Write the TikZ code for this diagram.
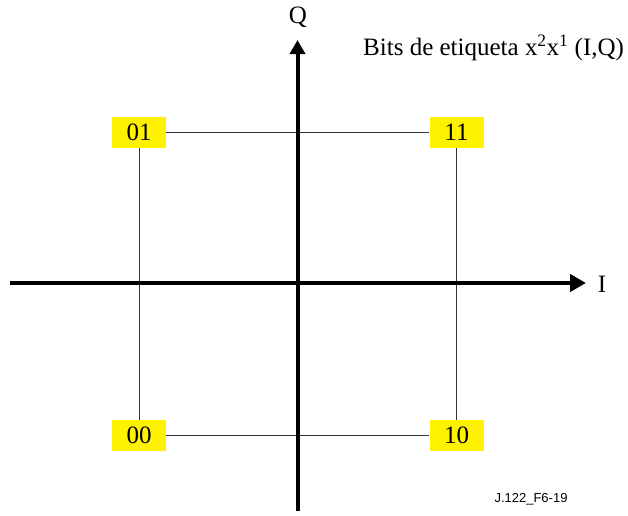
\documentclass[tikz,border=0pt]{standalone}
\usepackage{fontspec}
\setmainfont{Liberation Serif}
\setsansfont{Liberation Sans}
\usetikzlibrary{arrows.meta}
\begin{document}
\begin{tikzpicture}[x=1pt,y=-1pt,
  lbl/.style={fill=yellow,minimum width=54pt,minimum height=31pt,inner sep=0pt,font=\fontsize{25}{27}\selectfont},
  axis/.style={line width=4pt},
  grid/.style={line width=1pt,draw=black!80},
  txt/.style={font=\fontsize{25}{27}\selectfont,inner sep=0pt}]
\useasboundingbox (0,0) rectangle (628,515);
\node[lbl] (b01) at (139,132.5) {01};
\node[lbl] (b11) at (456.5,132.5) {11};
\node[lbl] (b00) at (139,435.5) {00};
\node[lbl] (b10) at (456.5,435.5) {10};
\coordinate (xl) at (10,283);
\coordinate (xr) at (586,283);
\coordinate (yb) at (297.5,511);
\coordinate (yt) at (297.5,40);
\draw[grid] (b01.east) -- (b11.west);
\draw[grid] (b00.east) -- (b10.west);
\draw[grid] (b01.south) -- (b00.north);
\draw[grid] (b11.south) -- (b10.north);
\draw[axis,-{Triangle[length=16pt,width=17pt]}] (xl) -- (xr);
\draw[axis,-{Triangle[length=14pt,width=15pt]}] (yb) -- (yt);
\node[txt] (qlab) at (298,17) {Q};
\node[txt] (ilab) at (602,284) {I};
\node[txt,anchor=west] (bits) at (363,48) {Bits de etiqueta x\textsuperscript{2}x\textsuperscript{1} (I,Q)};
\node[inner sep=0pt,font=\sffamily\fontsize{13}{15}\selectfont] (fig) at (531,499) {J.122\_F6-19};
\end{tikzpicture}
\end{document}
